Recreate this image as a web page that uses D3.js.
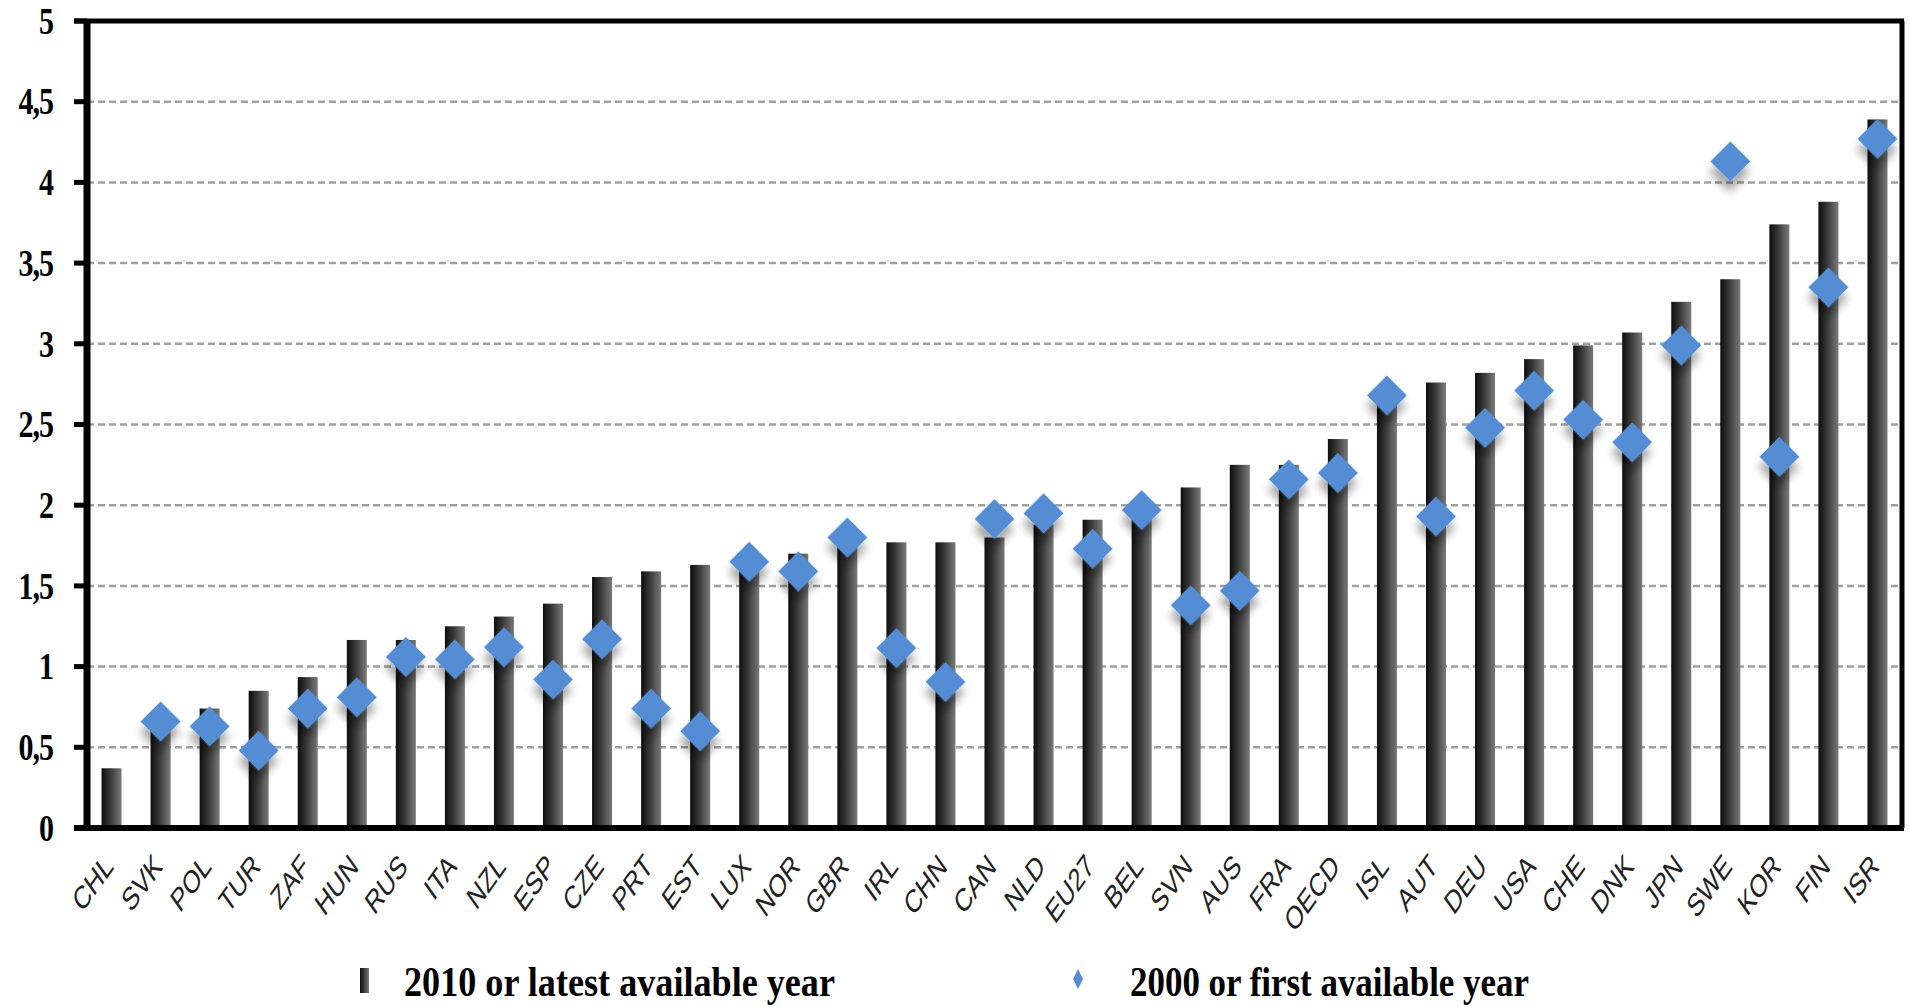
<!DOCTYPE html>
<html>
<head>
<meta charset="utf-8">
<script src="https://cdn.jsdelivr.net/npm/d3@7"></script>
<style>
  body { margin: 0; background: #fff; }
</style>
</head>
<body>
<div class="graph"></div>
<script>
// DATA
let countries = ['CHL','SVK','POL','TUR','ZAF','HUN','RUS','ITA','NZL','ESP','CZE','PRT','EST','LUX','NOR','GBR','IRL','CHN','CAN','NLD','EU27','BEL','SVN','AUS','FRA','OECD','ISL','AUT','DEU','USA','CHE','DNK','JPN','SWE','KOR','FIN','ISR']
let latest = [0.37,0.63,0.74,0.85,0.935,1.165,1.165,1.25,1.31,1.39,1.555,1.59,1.63,1.63,1.70,1.76,1.77,1.77,1.80,1.88,1.91,1.93,2.11,2.25,2.25,2.41,2.62,2.76,2.82,2.905,2.99,3.07,3.26,3.40,3.74,3.88,4.39]
let first = [null,0.66,0.63,0.48,0.74,0.81,1.06,1.045,1.12,0.92,1.17,0.74,0.60,1.65,1.59,1.80,1.115,0.905,1.915,1.95,1.73,1.97,1.38,1.47,2.16,2.20,2.68,1.93,2.48,2.71,2.53,2.39,2.99,4.13,2.30,3.35,4.27]
let yTicks = [0,0.5,1,1.5,2,2.5,3,3.5,4,4.5,5]
let yTickLabels = ['0','0,5','1','1,5','2','2,5','3','3,5','4','4,5','5']
let legendLabels = ['2010 or latest available year','2000 or first available year']

const W = 1910, H = 1007
const plotL = 87, plotR = 1902, plotT = 21, plotB = 828

let svg = d3.select('.graph')
  .append('svg')
  .attr('width', W)
  .attr('height', H)

let defs = svg.append('defs')

// bar gradient, dark on the left, grey on the right
let grad = defs.append('linearGradient')
  .attr('id', 'barGrad')
  .attr('x1', '0%').attr('x2', '100%')
  .attr('y1', '0%').attr('y2', '0%')
grad.append('stop').attr('offset', '0%').attr('stop-color', '#0d0d0d')
grad.append('stop').attr('offset', '45%').attr('stop-color', '#3a3a3a')
grad.append('stop').attr('offset', '100%').attr('stop-color', '#7a7a7a')

let shadow = defs.append('filter')
  .attr('id', 'shadow')
  .attr('x', '-50%').attr('y', '-50%')
  .attr('width', '200%').attr('height', '200%')
shadow.append('feDropShadow')
  .attr('dx', 7).attr('dy', 8)
  .attr('stdDeviation', 4)
  .attr('flood-color', '#000')
  .attr('flood-opacity', 0.35)

let x = d3.scaleBand()
  .domain(countries)
  .range([plotL, plotR])
  .paddingInner(0.592)
  .paddingOuter(0.296)

let y = d3.scaleLinear()
  .domain([0, 5])
  .range([plotB, plotT])

//gridlines
svg.append('g')
  .selectAll('line')
  .data(yTicks.filter(d => d > 0 && d < 5))
  .enter()
  .append('line')
  .attr('x1', plotL)
  .attr('x2', plotR)
  .attr('y1', d => y(d))
  .attr('y2', d => y(d))
  .attr('stroke', '#a0a0a0')
  .attr('stroke-width', 2.5)
  .attr('stroke-dasharray', '7,4')

//bars
svg.append('g')
  .selectAll('rect')
  .data(countries)
  .enter()
  .append('rect')
  .attr('x', d => x(d))
  .attr('width', x.bandwidth())
  .attr('y', (d, i) => y(latest[i]))
  .attr('height', (d, i) => y(0) - y(latest[i]))
  .attr('fill', 'url(#barGrad)')

//diamonds
let diamond = d3.symbol().type(d3.symbolSquare).size(800)
svg.append('g')
  .selectAll('path')
  .data(countries.filter((d, i) => first[i] != null))
  .enter()
  .append('path')
  .attr('d', diamond)
  .attr('transform', d => {
    let i = countries.indexOf(d)
    return 'translate(' + (x(d) + x.bandwidth() / 2) + ',' + y(first[i]) + ') rotate(45)'
  })
  .attr('fill', '#548dd4')
  .attr('filter', 'url(#shadow)')

//frame + axes
let frame = svg.append('g').attr('stroke', '#000')
frame.append('line').attr('x1', 74).attr('x2', plotR + 2).attr('y1', y(5)).attr('y2', y(5)).attr('stroke-width', 5)
frame.append('line').attr('x1', plotR).attr('x2', plotR).attr('y1', y(5)).attr('y2', y(0)).attr('stroke-width', 5)
frame.append('line').attr('x1', 74).attr('x2', plotR + 2).attr('y1', y(0)).attr('y2', y(0)).attr('stroke-width', 6)
frame.append('line').attr('x1', plotL).attr('x2', plotL).attr('y1', y(5) - 2).attr('y2', y(0)).attr('stroke-width', 7)

let yAxis = svg.append('g')
yAxis.selectAll('line')
  .data(yTicks)
  .enter()
  .append('line')
  .attr('x1', 74).attr('x2', plotL)
  .attr('y1', d => y(d)).attr('y2', d => y(d))
  .attr('stroke', '#000')
  .attr('stroke-width', 5)
yAxis.selectAll('text')
  .data(yTicks)
  .enter()
  .append('text')
  .attr('transform', d => 'translate(53,' + y(d) + ') scale(1,1.25)')
  .attr('dy', '0.34em')
  .attr('text-anchor', 'end')
  .attr('font-family', 'Liberation Serif, Times New Roman, serif')
  .attr('font-weight', 'bold')
  .attr('font-size', 30)
  .attr('letter-spacing', -1)
  .text((d, i) => yTickLabels[i])

//country labels
svg.append('g')
  .selectAll('text')
  .data(countries)
  .enter()
  .append('text')
  .attr('transform', d => 'translate(' + (x(d) + x.bandwidth() / 2 + 3) + ',868) scale(1,1.4) rotate(-45)')
  .attr('text-anchor', 'end')
  .attr('font-family', 'Liberation Sans, Arial, sans-serif')
  .attr('font-size', 23)
  .attr('fill', '#222')
  .text(d => d)

//legend
let legend = svg.append('g')
legend.append('rect')
  .attr('x', 360).attr('y', 968)
  .attr('width', 9).attr('height', 25)
  .attr('fill', 'url(#barGrad)')
legend.append('path')
  .attr('d', d3.symbol().type(d3.symbolSquare).size(50))
  .attr('transform', 'translate(1078,979) scale(1,2) rotate(45)')
  .attr('fill', '#548dd4')
legend.selectAll('text')
  .data(legendLabels)
  .enter()
  .append('text')
  .attr('transform', (d, i) => 'translate(' + [404, 1130][i] + ',996) scale(1,1.3)')
  .attr('font-family', 'Liberation Serif, Times New Roman, serif')
  .attr('font-weight', 'bold')
  .attr('font-size', 32)
  .attr('textLength', (d, i) => [431, 399][i])
  .attr('lengthAdjust', 'spacingAndGlyphs')
  .text(d => d)
</script>
</body>
</html>
